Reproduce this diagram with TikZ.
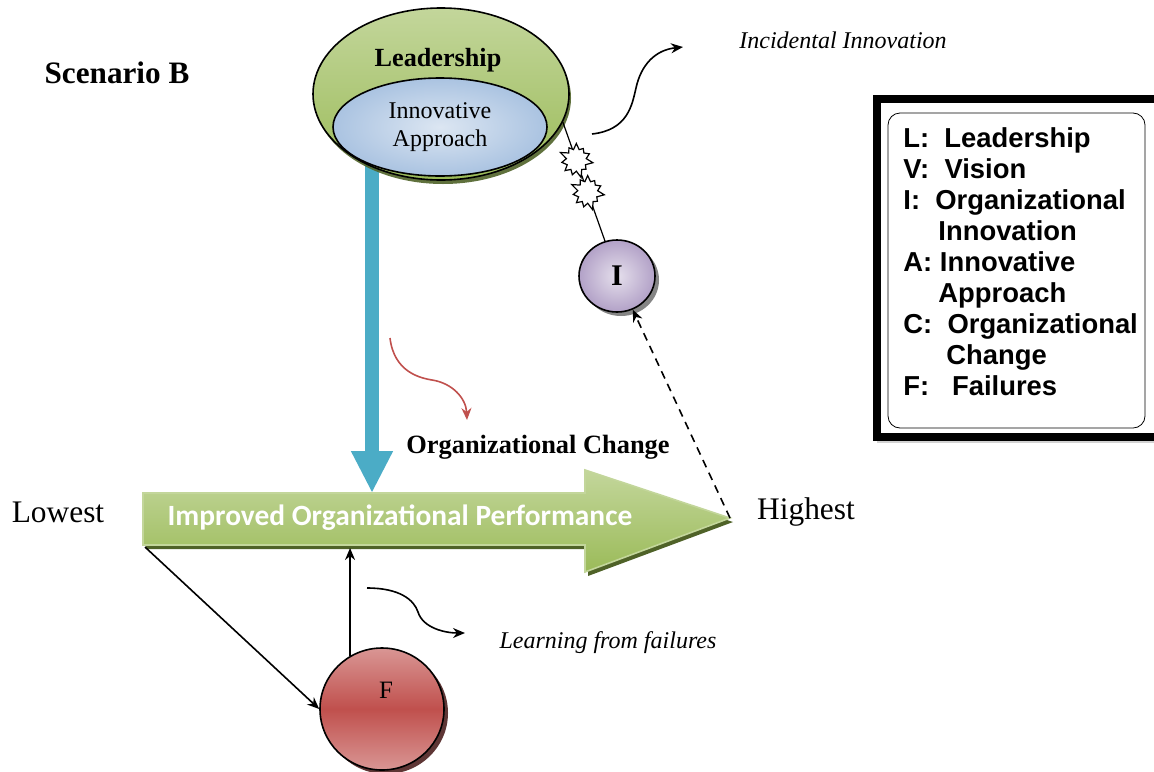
\documentclass[tikz,border=0pt]{standalone}
\usepackage{fontspec}
\setmainfont{Liberation Serif}
\newfontfamily\perffont{Carlito}
\newfontfamily\keyfont{Liberation Sans}
\usetikzlibrary{shapes.geometric,shapes.symbols,shadows,arrows.meta}
\definecolor{leadgreen}{RGB}{155,187,89}
\definecolor{lightgreen}{RGB}{195,214,155}
\definecolor{darkolive}{RGB}{79,98,40}
\definecolor{paleblue}{RGB}{220,230,242}
\definecolor{midblue}{RGB}{170,195,225}
\definecolor{changeblue}{RGB}{75,172,198}
\definecolor{palepurple}{RGB}{229,223,236}
\definecolor{midpurple}{RGB}{178,161,199}
\definecolor{failred}{RGB}{192,80,77}
\definecolor{palered}{RGB}{217,150,148}
\newcommand{\perfshape}{(143,493) -- (585,493) -- (585,470) -- (730,518) -- (585,572) -- (585,545) -- (143,545) -- cycle}
\newcommand{\fsz}[1]{\fontsize{#1}{1.15\dimexpr#1pt\relax}\selectfont}
\tikzset{
    >={Stealth[length=6pt,width=5pt]},
    bubble/.style={draw, ellipse, thick, inner sep=0pt},
    leader/.style={bubble, top color=lightgreen, bottom color=leadgreen, minimum width=128pt, minimum height=86pt,
        drop shadow={shadow xshift=1pt, shadow yshift=-2pt, fill=darkolive, opacity=0.9}},
    approach/.style={bubble, inner color=paleblue, outer color=midblue, minimum width=107pt, minimum height=49pt},
    innov/.style={bubble, inner color=palepurple, outer color=midpurple, minimum width=38pt, minimum height=36pt,
        drop shadow={shadow xshift=2pt, shadow yshift=-2pt, fill=black!60, opacity=0.8}},
    failure/.style={bubble, top color=palered, bottom color=palered, middle color=failred, minimum width=62pt, minimum height=61pt,
        drop shadow={shadow xshift=2pt, shadow yshift=-2pt, fill=failred!40!black, opacity=0.9}},
    burst/.style={draw, semithick, fill=white, starburst, starburst points=11, starburst point height=4pt,
        minimum width=18pt, minimum height=19pt, inner sep=0pt},
    link/.style={->, thick},
    wave/.style={->, thick},
    note/.style={font=\fsz{12}\itshape},
    side/.style={font=\fsz{15.7}},
    keytext/.style={font=\keyfont\bfseries\fontsize{13.7}{15.5}\selectfont, align=left, inner sep=0pt, anchor=north west},
}
\begin{document}
\begin{tikzpicture}[x=0.5pt, y=-0.5pt]
    \useasboundingbox (0,0) rectangle (1154,771);
    % anchor points on the performance arrow
    \coordinate (perfTop) at (372,493);
    \coordinate (perfTip) at (730,518);
    \coordinate (perfBL) at (145,547);
    \coordinate (perfBot) at (143,548);
    \coordinate (blueTop) at (372,150);

    % organizational change
    \draw[line width=7pt, changeblue, -{Triangle[width=19.5pt,length=21pt]}] (blueTop) -- (perfTop);

    % improved organizational performance
    \fill[darkolive, xshift=1.5pt, yshift=-2pt] \perfshape;
    \shade[top color=lightgreen, bottom color=leadgreen, draw=lightgreen, thick] \perfshape;
    \node[font=\perffont\bfseries\fsz{14.7}, text=white] (perftxt) at (400,518) {Improved Organizational Performance};

    \node[font=\fsz{15.6}\bfseries] (scen) at (117,73) {Scenario B};
    \node[side] (low) at (58,512) {Lowest};
    \node[side] (high) at (806,512) {Highest};

    % leadership
    \node[leader] (lead) at (441,94) {};
    \node[font=\fsz{13.1}\bfseries] (leadtxt) at (438,60) {Leadership};
    \node[approach, align=center, font=\fontsize{12}{14}\selectfont] (appr) at (440,127) {Innovative\\Approach};

    \node[font=\fsz{13.2}\bfseries] (orgch) at (538,447) {Organizational Change};
    \coordinate (redS) at (390,338);
    \coordinate (redE) at (467,420);
    \draw[wave, failred] (redS) .. controls (394,372) and (420,378) .. (432,380) .. controls (452,383) and (466,398) .. (redE);

    % innovation
    \node[innov, font=\fsz{15}\bfseries] (innov) at (617,276) {I};
    \draw[semithick] (lead.-13) -- node[burst, pos=0.32] (burst1) {} node[burst, pos=0.59] (burst2) {} (innov.109);
    \draw[link, dashed, dash pattern=on 4pt off 3pt] (perfTip) -- (innov);

    \coordinate (incS) at (592,134);
    \coordinate (incE) at (683,47);
    \draw[wave] (incS) .. controls (628,130) and (632,105) .. (636,88) .. controls (641,65) and (655,50) .. (incE);
    \node[note] (incid) at (843,40) {Incidental Innovation};

    % failures
    \node[failure] (fail) at (382,709) {};
    \node[font=\fsz{12.5}] (failtxt) at (386,690) {F};
    \draw[link] (perfBL) -- (fail.west);
    \draw[link] (fail.121) -- (fail.121 |- perfBot);

    \coordinate (learnS) at (367,588);
    \coordinate (learnE) at (465,633);
    \draw[wave] (learnS) .. controls (400,588) and (414,600) .. (418,612) .. controls (423,628) and (445,633) .. (learnE);
    \node[note] (learn) at (608,643) {Learning from failures};

    % key
    \node[draw, line width=4pt, fill=white, minimum width=141.5pt, minimum height=169pt, inner sep=0pt,
        drop shadow={shadow xshift=0pt, shadow yshift=-3pt, fill=black!35}] (keyframe) at (1018.5,268) {};
    \node[draw, rounded corners=6pt, minimum width=128.5pt, minimum height=157.5pt] (keybox) at (1016.5,270.5) {};
    \node[keytext] (keytxt) at (903,127) {L:\ \ Leadership\\ V:\ \ Vision\\ I:\ \ Organizational\\
        \hspace*{17.5pt}Innovation\\ A:\ Innovative\\ \hspace*{17.5pt}Approach\\ C:\ \ Organizational\\
        \hspace*{21.5pt}Change\\ F:\ \ \ Failures};
\end{tikzpicture}
\end{document}
